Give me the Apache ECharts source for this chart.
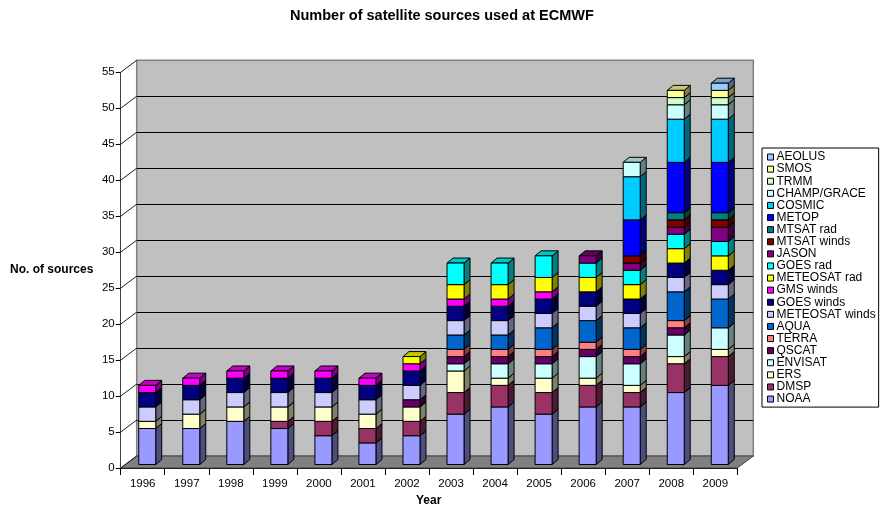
<!DOCTYPE html>
<html>
<head>
<meta charset="utf-8">
<script src="https://cdn.jsdelivr.net/npm/echarts@6/dist/echarts.min.js"></script>
<style>
  html, body { margin: 0; padding: 0; background: #fff; }
  #chart { width: 881px; height: 507px; }
</style>
</head>
<body>
<div id="chart"></div>
<script>
// Years on the category axis
const years = ['1996','1997','1998','1999','2000','2001','2002','2003','2004','2005','2006','2007','2008','2009'];

// Number of sources per instrument/platform, one value per year (stacked bottom to top)
const NOAA            = [5,5,6,5,4,3,4,7,8,7,8,8,10,11];
const DMSP            = [0,0,0,1,2,2,2,3,3,3,3,2,4,4];
const ERS             = [1,2,2,2,2,2,2,3,1,2,1,1,1,1];
const ENVISAT         = [0,0,0,0,0,0,0,1,2,2,3,3,3,3];
const QSCAT           = [0,0,0,0,0,0,1,1,1,1,1,1,1,0];
const TERRA           = [0,0,0,0,0,0,0,1,1,1,1,1,1,0];
const AQUA            = [0,0,0,0,0,0,0,2,2,3,3,3,4,4];
const METEOSAT_winds  = [2,2,2,2,2,2,2,2,2,2,2,2,2,2];
const GOES_winds      = [2,2,2,2,2,2,2,2,2,2,2,2,2,2];
const GMS_winds       = [1,1,1,1,1,1,1,1,1,1,0,0,0,0];
const METEOSAT_rad    = [0,0,0,0,0,0,1,2,2,2,2,2,2,2];
const GOES_rad        = [0,0,0,0,0,0,0,3,3,3,2,2,2,2];
const JASON           = [0,0,0,0,0,0,0,0,0,0,1,1,1,2];
const MTSAT_winds     = [0,0,0,0,0,0,0,0,0,0,0,1,1,1];
const MTSAT_rad       = [0,0,0,0,0,0,0,0,0,0,0,0,1,1];
const METOP           = [0,0,0,0,0,0,0,0,0,0,0,5,7,7];
const COSMIC          = [0,0,0,0,0,0,0,0,0,0,0,6,6,6];
const CHAMP_GRACE     = [0,0,0,0,0,0,0,0,0,0,0,2,2,2];
const TRMM            = [0,0,0,0,0,0,0,0,0,0,0,0,1,1];
const SMOS            = [0,0,0,0,0,0,0,0,0,0,0,0,1,1];
const AEOLUS          = [0,0,0,0,0,0,0,0,0,0,0,0,0,1];

// Y-axis ticks
const yTicks = [0,5,10,15,20,25,30,35,40,45,50,55];

// Stack order (bottom first), display names and fill colours
const stackSeries = [
  ['NOAA', NOAA, '#9999FF'],
  ['DMSP', DMSP, '#993366'],
  ['ERS', ERS, '#FFFFCC'],
  ['ENVISAT', ENVISAT, '#CCFFFF'],
  ['QSCAT', QSCAT, '#660066'],
  ['TERRA', TERRA, '#FF8080'],
  ['AQUA', AQUA, '#0066CC'],
  ['METEOSAT winds', METEOSAT_winds, '#CCCCFF'],
  ['GOES winds', GOES_winds, '#000080'],
  ['GMS winds', GMS_winds, '#FF00FF'],
  ['METEOSAT rad', METEOSAT_rad, '#FFFF00'],
  ['GOES rad', GOES_rad, '#00FFFF'],
  ['JASON', JASON, '#800080'],
  ['MTSAT winds', MTSAT_winds, '#800000'],
  ['MTSAT rad', MTSAT_rad, '#008080'],
  ['METOP', METOP, '#0000FF'],
  ['COSMIC', COSMIC, '#00CCFF'],
  ['CHAMP/GRACE', CHAMP_GRACE, '#CCFFFF'],
  ['TRMM', TRMM, '#CCFFCC'],
  ['SMOS', SMOS, '#FFFF99'],
  ['AEOLUS', AEOLUS, '#99CCFF']
];

// Shade a hex colour by a factor
function shade(hex, f) {
  const n = parseInt(hex.slice(1), 16);
  const r = Math.round(((n >> 16) & 255) * f);
  const g = Math.round(((n >> 8) & 255) * f);
  const b = Math.round((n & 255) * f);
  return 'rgb(' + r + ',' + g + ',' + b + ')';
}

// Perspective constants for the pseudo-3D look
const WALL_DX = 16, WALL_DY = -12;   // depth of the floor / side wall
const BAR_OX = 4.5, BAR_OY = -3.5;    // bar front plane offset into the floor
const BAR_W = 17;                    // bar front-face width
const BAR_DX = 6, BAR_DY = -5;       // bar depth

const FONT = 'Liberation Sans, Arial, sans-serif';

// Build stacked segments: [yearIndex, base, top]
const cumulative = years.map(() => 0);
const barSeries = stackSeries.map(([name, values, color]) => {
  const data = [];
  values.forEach((v, i) => {
    if (v > 0) {
      data.push([i, cumulative[i], cumulative[i] + v]);
    }
    cumulative[i] += v;
  });
  return {
    type: 'custom',
    name: name,
    xAxisIndex: 0,
    yAxisIndex: 0,
    z: 10,
    itemStyle: { color: color },
    data: data,
    renderItem: function (params, api) {
      const idx = api.value(0);
      const p0 = api.coord([idx, api.value(1)]);
      const p1 = api.coord([idx, api.value(2)]);
      const xl = p0[0] + BAR_OX - BAR_W / 2;
      const xr = p0[0] + BAR_OX + BAR_W / 2;
      const yb = p0[1] + BAR_OY;
      const yt = p1[1] + BAR_OY;
      const stroke = { stroke: '#000', lineWidth: 1 };
      return {
        type: 'group',
        children: [
          {
            type: 'polygon',
            shape: { points: [[xr, yt], [xr + BAR_DX, yt + BAR_DY], [xr + BAR_DX, yb + BAR_DY], [xr, yb]] },
            style: Object.assign({ fill: shade(color, 0.5) }, stroke)
          },
          {
            type: 'polygon',
            shape: { points: [[xl, yt], [xl + BAR_DX, yt + BAR_DY], [xr + BAR_DX, yt + BAR_DY], [xr, yt]] },
            style: Object.assign({ fill: shade(color, 0.78) }, stroke)
          },
          {
            type: 'rect',
            shape: { x: xl, y: yt, width: BAR_W, height: yb - yt },
            style: Object.assign({ fill: color }, stroke)
          }
        ]
      };
    }
  };
});

// Floor slab between the front axis and the back wall
const floorSeries = {
  type: 'custom',
  xAxisIndex: 0,
  yAxisIndex: 0,
  z: 2,
  silent: true,
  data: [[0, 0]],
  renderItem: function (params, api) {
    const bw = api.size([1, 0])[0];
    const first = api.coord([0, 0]);
    const last = api.coord([years.length - 1, 0]);
    const x0 = first[0] - bw / 2, x1 = last[0] + bw / 2, y = first[1];
    return {
      type: 'polygon',
      shape: { points: [[x0, y], [x1, y], [x1 + WALL_DX, y + WALL_DY], [x0 + WALL_DX, y + WALL_DY]] },
      style: { fill: '#808080', stroke: '#404040', lineWidth: 1 }
    };
  }
};

// Side-wall lines joining each front tick to the back wall
const sideWallSeries = {
  type: 'custom',
  xAxisIndex: 0,
  yAxisIndex: 0,
  z: 3,
  silent: true,
  data: yTicks.map(v => [0, v]),
  renderItem: function (params, api) {
    const bw = api.size([1, 0])[0];
    const p = api.coord([0, api.value(1)]);
    const x = p[0] - bw / 2;
    return {
      type: 'line',
      shape: { x1: x, y1: p[1], x2: x + WALL_DX, y2: p[1] + WALL_DY },
      style: { stroke: '#202020', lineWidth: 1 }
    };
  }
};

const chart = echarts.init(document.getElementById('chart'), null, { renderer: 'canvas' });

chart.setOption({
  animation: false,
  backgroundColor: '#ffffff',
  title: [
    {
      text: 'Number of satellite sources used at ECMWF',
      left: 290, top: 8, padding: 0,
      textStyle: { fontFamily: FONT, fontSize: 14.5, fontWeight: 'bold', color: '#000' }
    },
    {
      text: 'No. of sources',
      left: 10, top: 264, padding: 0,
      textStyle: { fontFamily: FONT, fontSize: 12, fontWeight: 'bold', color: '#000' }
    },
    {
      text: 'Year',
      left: 416, top: 495, padding: 0,
      textStyle: { fontFamily: FONT, fontSize: 12, fontWeight: 'bold', color: '#000' }
    }
  ],
  legend: {
    orient: 'vertical',
    left: 762, top: 148,
    padding: [3, 3, 2, 5],
    itemGap: 0,
    itemWidth: 6, itemHeight: 6,
    itemStyle: { borderColor: '#000', borderWidth: 1 },
    borderColor: '#000', borderWidth: 1,
    backgroundColor: '#fff',
    icon: 'rect',
    textStyle: { fontFamily: FONT, fontSize: 12, color: '#000', lineHeight: 12.1, padding: [0, 0, 0, -2] },
    data: stackSeries.map(s => s[0]).reverse()
  },
  grid: [
    { left: 120.7, right: 143.7, top: 72.3, bottom: 39, containLabel: false },
    { left: 136.7, right: 127.7, top: 60.3, bottom: 51, containLabel: false, show: true,
      backgroundColor: '#c0c0c0', borderColor: '#808080', borderWidth: 1.5 }
  ],
  xAxis: [
    {
      type: 'category', gridIndex: 0, data: years, boundaryGap: true,
      axisLine: { show: true, lineStyle: { color: '#000', width: 1 } },
      axisTick: { show: true, inside: false, length: 7, lineStyle: { color: '#000' } },
      axisLabel: { fontFamily: FONT, fontSize: 11.5, color: '#000', margin: 10 },
      splitLine: { show: false }
    },
    {
      type: 'category', gridIndex: 1, data: years, boundaryGap: true,
      axisLine: { show: false }, axisTick: { show: false }, axisLabel: { show: false },
      splitLine: { show: false }
    }
  ],
  yAxis: [
    {
      type: 'value', gridIndex: 0, min: 0, max: 55, interval: 5,
      axisLine: { show: true, lineStyle: { color: '#404040', width: 1 } },
      axisTick: { show: true, inside: false, length: 5, lineStyle: { color: '#000' } },
      axisLabel: { fontFamily: FONT, fontSize: 11.5, color: '#000', margin: 6 },
      splitLine: { show: false }
    },
    {
      type: 'value', gridIndex: 1, min: 0, max: 55, interval: 5,
      axisLine: { show: false }, axisTick: { show: false }, axisLabel: { show: false },
      splitLine: { show: true, showMinLine: false, showMaxLine: false, lineStyle: { color: '#000', width: 1 } }
    }
  ],
  series: [floorSeries, sideWallSeries].concat(barSeries)
});
</script>
</body>
</html>
